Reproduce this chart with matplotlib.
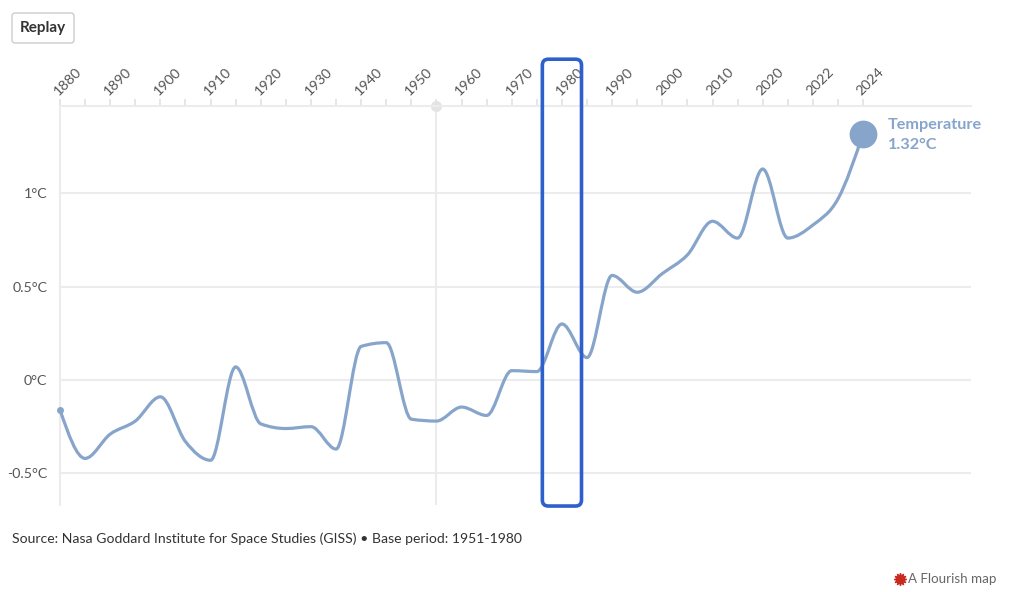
import matplotlib.pyplot as plt
import numpy as np
from matplotlib.path import Path
from matplotlib.patches import PathPatch, FancyBboxPatch

plt.rcParams['font.family'] = ['Lato', 'DejaVu Sans']

# x positions are on the chart's linear axis; the last two labels are custom
years = [1880, 1885, 1890, 1895, 1900, 1905, 1910, 1915, 1920, 1925, 1930,
         1935, 1940, 1945, 1950, 1955, 1960, 1965, 1970, 1975, 1980, 1985,
         1990, 1995, 2000, 2005, 2010, 2015, 2020, 2025, 2030, 2035, 2040]
temps = [-0.16, -0.42, -0.29, -0.22, -0.09, -0.33, -0.43, 0.07, -0.235, -0.26,
         -0.25, -0.37, 0.18, 0.20, -0.21, -0.22, -0.145, -0.19, 0.05, 0.045,
         0.30, 0.12, 0.56, 0.47, 0.57, 0.67, 0.85, 0.76, 1.13, 0.76, 0.83,
         0.97, 1.32]

tick_pos = [1880, 1890, 1900, 1910, 1920, 1930, 1940, 1950, 1960, 1970,
            1980, 1990, 2000, 2010, 2020, 2030, 2040]
tick_labels = ['1880', '1890', '1900', '1910', '1920', '1930', '1940', '1950',
               '1960', '1970', '1980', '1990', '2000', '2010', '2020', '2022',
               '2024']
y_ticks = [-0.5, 0, 0.5, 1]
y_labels = ['-0.5°C', '0°C', '0.5°C', '1°C']

highlight_year = 1980
hover_year = 1955
last_label = 'Temperature\n1.32°C'

line_col = '#87a5cb'
grid_col = '#ececec'


def monotone_path(x, y):
    # same as d3.curveMonotoneX, built from cubic bezier pieces
    x = np.asarray(x, float)
    y = np.asarray(y, float)
    n = len(x)
    h = np.diff(x)
    s = np.diff(y) / h
    sg = lambda v: -1.0 if v < 0 else 1.0
    t = np.zeros(n)
    for i in range(1, n - 1):
        p = (s[i-1] * h[i] + s[i] * h[i-1]) / (h[i-1] + h[i])
        t[i] = (sg(s[i-1]) + sg(s[i])) * min(abs(s[i-1]), abs(s[i]), 0.5 * abs(p))
    t[0] = (3 * s[0] - t[1]) / 2
    t[-1] = (3 * s[-1] - t[-2]) / 2
    verts = [(x[0], y[0])]
    codes = [Path.MOVETO]
    for i in range(n - 1):
        dx = h[i] / 3
        verts += [(x[i] + dx, y[i] + dx * t[i]),
                  (x[i+1] - dx, y[i+1] - dx * t[i+1]),
                  (x[i+1], y[i+1])]
        codes += [Path.CURVE4] * 3
    return Path(verts, codes)


fig = plt.figure(figsize=(10.24, 5.92), dpi=100)
ax = fig.add_axes([60/1024, 87/592, 911/1024, 399.3/592])
ax.set_xlim(1880, 2061.5)
ax.set_ylim(-0.6695, 1.469)

for v in y_ticks:
    ax.axhline(v, color=grid_col, lw=1.5, zorder=0)
ax.axvline(hover_year, color=grid_col, lw=1.5, zorder=0)
ax.plot([hover_year], [ax.get_ylim()[1]], 'o', color='#e4e4e4', ms=7,
        clip_on=False, zorder=1)

for side in ['right', 'bottom']:
    ax.spines[side].set_visible(False)
ax.spines['top'].set_color(grid_col)
ax.spines['top'].set_linewidth(1.5)
ax.spines['left'].set_color(grid_col)
ax.spines['left'].set_linewidth(1.5)

ax.xaxis.tick_top()
ax.set_xticks(np.arange(1880, 2041, 5), minor=True)
ax.set_xticks(tick_pos)
ax.set_xticklabels(tick_labels, rotation=45, ha='left', va='bottom',
                   rotation_mode='anchor', fontsize=10.3, color='#555555')
ax.tick_params(axis='x', which='both', length=5, color='#e2e2e2', width=1.2,
               pad=1)
ax.set_yticks(y_ticks)
ax.set_yticklabels(y_labels, fontsize=10.3, color='#555555')
ax.tick_params(axis='y', length=0, pad=9)

ax.add_patch(PathPatch(monotone_path(years, temps), fill=False,
                       edgecolor=line_col, lw=2.3, capstyle='round',
                       joinstyle='round', zorder=3))
ax.plot([years[0]], [temps[0]], 'o', color=line_col, ms=4, zorder=3,
        clip_on=False)
ax.plot([years[-1]], [temps[-1]], 'o', color=line_col, ms=19, zorder=4,
        clip_on=False)
ax.annotate(last_label, (years[-1], temps[-1]), xytext=(18, -1),
            textcoords='offset points', ha='left', va='center',
            fontsize=11.7, fontweight='bold', color=line_col, linespacing=1.6)

# highlight box round the selected year (drawn in pixels for round corners)
fig.canvas.draw()
(x0, y0), (x1, y1) = ax.transData.transform([(highlight_year - 3.9, -0.675),
                                             (highlight_year + 3.9, 1.718)])
ax.add_patch(FancyBboxPatch((x0, y0), x1 - x0, y1 - y0,
                            boxstyle='round,pad=0,rounding_size=6',
                            transform=None, fill=False, edgecolor='#2d60cc',
                            lw=2.6, clip_on=False, zorder=5))

# replay button
fig.patches.append(FancyBboxPatch((12, 592 - 43), 62, 30,
                                  boxstyle='round,pad=0,rounding_size=3',
                                  transform=None, facecolor='white',
                                  edgecolor='#cccccc', lw=1))
fig.text(43/1024, 1 - 28/592, 'Replay', ha='center', va='center',
         fontsize=11, fontweight='bold', color='#333333')

fig.text(12/1024, 1 - 539/592,
         'Source: Nasa Goddard Institute for Space Studies (GISS) • Base period: 1951-1980',
         ha='left', va='center', fontsize=10.1, color='#333333')
fig.text(908/1024, 1 - 579/592, 'A Flourish map', ha='left', va='center',
         fontsize=9.6, color='#666666')
fig.lines.append(plt.Line2D([900/1024], [1 - 579/592], marker=(12, 1, 0),
                            ms=9, color='#c8281e', transform=fig.transFigure))

fig.savefig('out.png', dpi=100)
